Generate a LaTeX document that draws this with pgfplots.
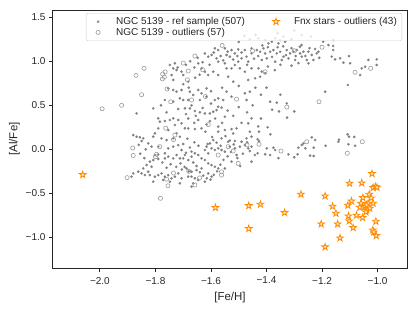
\documentclass[border=0pt]{standalone}
\usepackage{pgfplots}
\pgfplotsset{compat=1.18}
\usepackage{fontspec}
\setmainfont{Liberation Sans}
\definecolor{framec}{HTML}{262626}
\definecolor{textc}{HTML}{262626}
\definecolor{refgray}{HTML}{7F7F7F}
\definecolor{outgray}{HTML}{9A9A9A}
\definecolor{fnx}{HTML}{FF8C00}
\pgfdeclareplotmark{fstar}{%
  \pgfpathmoveto{\pgfpointpolar{90}{\pgfplotmarksize}}%
  \pgfpathlineto{\pgfpointpolar{126}{0.382\pgfplotmarksize}}%
  \pgfpathlineto{\pgfpointpolar{162}{\pgfplotmarksize}}%
  \pgfpathlineto{\pgfpointpolar{198}{0.382\pgfplotmarksize}}%
  \pgfpathlineto{\pgfpointpolar{234}{\pgfplotmarksize}}%
  \pgfpathlineto{\pgfpointpolar{270}{0.382\pgfplotmarksize}}%
  \pgfpathlineto{\pgfpointpolar{306}{\pgfplotmarksize}}%
  \pgfpathlineto{\pgfpointpolar{342}{0.382\pgfplotmarksize}}%
  \pgfpathlineto{\pgfpointpolar{18}{\pgfplotmarksize}}%
  \pgfpathlineto{\pgfpointpolar{54}{0.382\pgfplotmarksize}}%
  \pgfpathclose
  \pgfusepathqfillstroke}
\begin{document}
\begin{tikzpicture}
\useasboundingbox (-53pt,-46pt) rectangle (366pt,268pt);
\begin{axis}[
  at={(0,0)}, anchor=south west,
  scale only axis, width=354pt, height=258pt,
  xmin=-2.169, xmax=-0.894, ymin=-1.349, ymax=1.583,
  axis line style={framec, line width=1pt},
  xtick={-2,-1.8,-1.6,-1.4,-1.2,-1.0},
  xticklabels={−2.0,−1.8,−1.6,−1.4,−1.2,−1.0},
  ytick={-1,-0.5,0,0.5,1,1.5},
  yticklabels={−1.0,−0.5,0.0,0.5,1.0,1.5},
  xtick pos=bottom, ytick pos=left, tick align=outside,
  major tick length=4pt,
  every tick/.style={framec, line width=0.9pt},
  tick label style={font=\fontsize{10}{12}\selectfont, text=textc},
  xticklabel style={yshift=-1.5pt},
  xlabel={[Fe/H]}, ylabel={[Al/Fe]},
  label style={font=\fontsize{11.5}{13}\selectfont, text=textc},
  xlabel style={yshift=-1pt},
  ylabel style={yshift=-1pt},
  legend columns=2,
  legend cell align=left,
  legend image code/.code={%
    \path[draw=none,fill=none] (0pt,-3pt) rectangle (18pt,3pt);
    \draw plot coordinates {(9pt,0pt)};},
  legend style={at={(0.986,0.988)}, anchor=north east, draw=black!20,
    fill=white, fill opacity=0.8, text opacity=1, rounded corners=2pt,
    font=\fontsize{10}{12}\selectfont, text=textc,
    inner xsep=3pt, inner ysep=2pt, row sep=-2pt,
    /tikz/every odd column/.append style={column sep=7pt},
    /tikz/every even column/.append style={column sep=20pt}},
]
\addplot[color=refgray, only marks, mark=*, mark size=1.25pt, mark options={fill=refgray, draw=refgray, line width=0.1pt}] table {
x y
-1.748 0.958
-1.730 0.977
-1.736 0.920
-1.724 0.901
-1.742 0.844
-1.736 0.788
-1.706 0.882
-1.700 0.844
-1.754 0.693
-1.736 0.674
-1.724 0.655
-1.706 0.674
-1.712 0.579
-1.700 0.560
-1.766 0.560
-1.736 0.541
-1.586 1.147
-1.574 1.128
-1.550 1.147
-1.526 1.128
-1.502 1.136
-1.478 1.128
-1.454 1.147
-1.622 1.090
-1.610 1.053
-1.598 1.072
-1.580 1.034
-1.574 0.996
-1.544 1.072
-1.532 1.053
-1.514 1.090
-1.502 0.996
-1.490 1.034
-1.472 1.053
-1.466 0.996
-1.454 1.090
-1.646 0.977
-1.634 0.920
-1.622 0.882
-1.610 0.844
-1.592 0.882
-1.574 0.844
-1.550 0.977
-1.544 0.920
-1.526 0.920
-1.514 0.958
-1.496 0.920
-1.478 0.882
-1.454 0.920
-1.538 0.825
-1.520 0.769
-1.466 0.788
-1.682 0.769
-1.676 0.655
-1.664 0.617
-1.646 0.674
-1.634 0.636
-1.616 0.693
-1.616 0.598
-1.640 0.560
-1.586 0.560
-1.574 0.579
-1.556 0.560
-1.544 0.655
-1.526 0.598
-1.478 0.636
-1.460 0.655
-1.472 0.560
-1.682 0.560
-1.429 1.261
-1.405 1.242
-1.381 1.223
-1.369 1.261
-1.351 1.242
-1.333 1.223
-1.357 1.204
-1.339 1.280
-1.273 1.299
-1.393 1.204
-1.435 1.128
-1.423 1.109
-1.411 1.147
-1.405 1.090
-1.387 1.109
-1.375 1.128
-1.363 1.090
-1.351 1.109
-1.339 1.053
-1.327 1.128
-1.315 1.090
-1.303 1.109
-1.291 1.128
-1.279 1.090
-1.267 1.109
-1.249 1.109
-1.237 1.072
-1.219 1.090
-1.213 1.109
-1.417 1.015
-1.399 1.034
-1.369 0.996
-1.345 1.015
-1.321 1.034
-1.297 1.015
-1.273 1.053
-1.255 1.015
-1.249 0.977
-1.231 1.015
-1.429 0.920
-1.417 0.882
-1.405 0.863
-1.423 0.825
-1.441 0.807
-1.387 0.541
-1.363 0.530
-1.327 0.522
-1.189 0.655
-1.280 1.166
-1.274 1.185
-1.196 1.223
-1.160 1.128
-1.160 1.174
-1.177 1.185
-1.159 1.242
-1.500 1.220
-1.460 1.250
-1.440 1.300
-1.300 1.350
-1.240 1.280
-1.360 1.320
-1.480 1.290
-1.310 1.250
-1.165 1.053
-1.153 1.022
-1.135 1.034
-1.123 0.985
-1.103 1.060
-1.099 0.977
-1.063 0.844
-1.045 0.939
-1.033 1.015
-1.003 1.022
-1.003 0.958
-1.107 0.731
-1.057 0.920
-1.808 0.465
-1.868 0.408
-1.718 0.458
-1.790 0.352
-1.784 0.314
-1.766 0.321
-1.748 0.333
-1.736 0.352
-1.718 0.333
-1.706 0.295
-1.730 0.276
-1.754 0.219
-1.790 0.238
-1.802 0.181
-1.808 0.143
-1.778 0.124
-1.760 0.105
-1.736 0.124
-1.724 0.181
-1.712 0.143
-1.880 0.162
-1.868 0.143
-1.856 0.136
-1.844 0.124
-1.850 0.094
-1.826 0.067
-1.814 0.030
-1.790 0.030
-1.754 0.011
-1.736 0.030
-1.718 0.048
-1.706 -0.008
-1.724 -0.065
-1.712 -0.103
-1.736 -0.103
-1.754 -0.084
-1.766 -0.046
-1.790 -0.058
-1.802 -0.065
-1.808 -0.122
-1.766 -0.103
-1.832 -0.179
-1.814 -0.198
-1.844 -0.217
-1.862 -0.255
-1.880 -0.274
-1.886 -0.311
-1.850 -0.274
-1.838 -0.293
-1.826 -0.255
-1.820 -0.293
-1.802 -0.311
-1.790 -0.293
-1.778 -0.274
-1.766 -0.311
-1.754 -0.293
-1.742 -0.330
-1.730 -0.311
-1.718 -0.274
-1.706 -0.330
-1.808 -0.368
-1.772 -0.349
-1.748 -0.368
-1.712 -0.387
-1.700 -0.103
-1.694 0.465
-1.676 0.465
-1.658 0.435
-1.640 0.420
-1.622 0.408
-1.604 0.408
-1.592 0.427
-1.580 0.446
-1.574 0.484
-1.562 0.473
-1.550 0.370
-1.646 0.333
-1.682 0.350
-1.694 0.238
-1.682 0.238
-1.658 0.230
-1.634 0.238
-1.616 0.283
-1.604 0.320
-1.574 0.257
-1.574 0.200
-1.550 0.219
-1.526 0.230
-1.508 0.238
-1.466 0.295
-1.454 0.352
-1.472 0.124
-1.454 0.143
-1.490 0.086
-1.514 0.094
-1.538 0.086
-1.562 0.124
-1.592 0.105
-1.604 0.067
-1.616 0.030
-1.622 -0.008
-1.598 0.011
-1.586 -0.008
-1.574 0.011
-1.562 -0.008
-1.550 -0.027
-1.532 0.030
-1.514 0.011
-1.496 0.030
-1.478 0.048
-1.466 0.011
-1.454 0.030
-1.670 -0.027
-1.658 -0.046
-1.646 -0.065
-1.634 -0.103
-1.622 -0.122
-1.610 -0.160
-1.598 -0.179
-1.586 -0.198
-1.574 -0.217
-1.550 -0.217
-1.526 -0.141
-1.508 -0.065
-1.670 -0.084
-1.682 -0.122
-1.694 -0.065
-1.688 -0.217
-1.670 -0.255
-1.652 -0.236
-1.634 -0.217
-1.610 -0.274
-1.682 -0.311
-1.670 -0.311
-1.658 -0.330
-1.646 -0.349
-1.622 -0.368
-1.598 -0.311
-1.664 -0.387
-1.670 -0.425
-1.454 -0.141
-1.442 -0.065
-1.610 -0.046
-1.355 0.430
-1.326 0.360
-1.430 0.260
-1.396 0.250
-1.427 0.200
-1.386 0.170
-1.432 0.114
-1.427 0.094
-1.237 0.136
-1.267 0.068
-1.273 0.049
-1.260 0.011
-1.230 0.018
-1.285 0.018
-1.399 0.011
-1.375 0.018
-1.369 -0.008
-1.321 -0.057
-1.300 -0.090
-1.288 -0.057
-1.243 -0.072
-1.230 -0.076
-1.357 -0.100
-1.387 -0.065
-1.405 -0.057
-1.432 -0.045
-1.108 0.170
-1.103 0.143
-1.084 0.140
-1.139 0.110
-1.141 0.086
-1.105 0.057
-1.081 0.040
-1.187 0.040
-1.225 0.106
-1.657 0.814
-1.641 0.848
-1.690 -0.040
-1.676 0.020
-1.664 -0.150
-1.652 -0.190
-1.640 -0.260
-1.628 -0.300
-1.615 -0.330
-1.602 -0.345
-1.590 -0.290
-1.578 -0.250
-1.566 -0.175
-1.555 -0.120
-1.540 -0.080
-1.528 -0.030
-1.518 0.055
-1.505 -0.100
-1.495 -0.190
-1.485 -0.050
-1.470 0.080
-1.460 -0.020
-1.612 0.060
-1.596 0.140
-1.580 0.075
-1.565 0.040
-1.548 0.150
-1.532 0.100
-1.520 0.180
-1.645 0.040
-1.660 0.080
-1.685 0.120
-1.700 0.060
-1.710 -0.160
-1.695 -0.200
-1.680 -0.250
-1.705 -0.230
-1.725 -0.200
-1.745 -0.170
-1.760 -0.210
-1.775 -0.150
-1.790 -0.110
-1.820 -0.140
-1.840 -0.100
-1.855 -0.050
-1.860 0.050
-1.835 0.000
-1.720 0.930
-1.690 0.960
-1.675 1.000
-1.660 0.930
-1.648 1.040
-1.630 0.990
-1.605 0.960
-1.590 1.100
-1.565 1.060
-1.556 1.010
-1.540 1.110
-1.520 1.020
-1.505 1.060
-1.490 1.100
-1.470 0.960
-1.445 1.030
-1.430 1.060
-1.415 1.180
-1.395 1.160
-1.380 1.050
-1.360 1.160
-1.340 1.170
-1.330 1.070
-1.310 1.150
-1.295 1.060
-1.285 0.980
-1.260 1.060
-1.245 1.150
-1.225 1.140
-1.210 1.040
-1.395 0.940
-1.370 0.900
-1.350 0.960
-1.310 0.950
-1.690 0.400
-1.670 0.500
-1.655 0.380
-1.630 0.470
-1.600 0.520
-1.585 0.350
-1.560 0.300
-1.540 0.440
-1.520 0.380
-1.500 0.480
-1.490 0.300
-1.470 0.420
-1.450 0.500
-1.440 0.700
-1.420 0.620
-1.400 0.700
-1.380 0.450
-1.350 0.620
-1.300 0.430
-1.760 0.420
-1.780 0.500
-1.700 0.740
-1.680 0.700
-1.560 0.700
-1.500 0.720
-1.600 0.660
-1.660 0.300
-1.620 0.200
-1.460 0.200
-1.420 0.350
};
\addlegendentry{NGC 5139 - ref sample (507)}
\addplot[color=fnx, only marks, mark=fstar, mark size=3.5pt, mark options={draw=fnx, fill=fnx!18, line width=0.8pt}] table {
x y
-2.062 -0.289
-1.584 -0.663
-1.464 -0.641
-1.422 -0.625
-1.464 -0.902
-1.335 -0.720
-1.276 -0.512
-1.203 -0.849
-1.189 -0.531
-1.189 -1.110
-1.162 -0.648
-1.150 -0.728
-1.144 -0.849
-1.135 -1.008
-1.101 -0.387
-1.057 -0.383
-1.020 -0.277
-1.107 -0.637
-1.094 -0.588
-1.105 -0.758
-1.102 -0.815
-1.088 -0.891
-1.076 -0.750
-1.054 -0.777
-1.060 -0.614
-1.053 -0.550
-1.064 -0.660
-1.046 -0.652
-1.040 -0.690
-1.034 -0.614
-1.030 -0.512
-1.023 -0.554
-1.016 -0.614
-1.040 -0.633
-1.028 -0.671
-1.042 -0.713
-1.016 -0.436
-1.008 -0.425
-1.002 -0.432
-1.006 -0.819
-1.017 -0.917
-1.014 -0.940
-1.005 -0.982
};
\addlegendentry{Fnx stars - outliers (43)}
\addplot[color=outgray, only marks, mark=o, mark size=2.1pt, mark options={draw=outgray, line width=0.6pt}] table {
x y
-1.992 0.46
-1.922 0.50
-1.870 0.84
-1.841 0.92
-1.850 0.62
-1.882 0.015
-1.880 -0.07
-1.774 0.856
-1.768 0.82
-1.765 0.88
-1.700 0.98
-1.758 0.685
-1.682 0.89
-1.745 0.54
-1.763 0.24
-1.735 0.11
-1.685 0.79
-1.630 0.905
-1.658 1.06
-1.610 0.28
-1.508 0.57
-1.670 0.56
-1.405 0.88
-1.211 0.54
-1.081 0.875
-1.025 0.92
-1.327 0.48
-1.255 0.086
-1.055 0.086
-1.109 -0.045
-1.730 0.162
-1.784 0.03
-1.902 -0.322
-1.755 -0.415
-1.782 -0.557
-1.796 -0.057
-1.800 -0.084
-1.735 -0.27
-1.641 -0.325
-1.502 -0.16
-1.562 -0.255
-1.562 -0.293
-1.658 -0.406
-1.538 0.03
-1.574 -0.065
-1.427 0.057
-1.348 -0.02
-1.450 1.12
-1.775 0.80
-1.520 -0.02
-1.680 -0.25
-1.470 0.05
-1.300 1.12
-1.200 1.16
-1.560 1.18
-1.760 -0.34
-1.620 0.60
};
\addlegendentry{NGC 5139 - outliers (57)}
\end{axis}
\end{tikzpicture}
\end{document}
